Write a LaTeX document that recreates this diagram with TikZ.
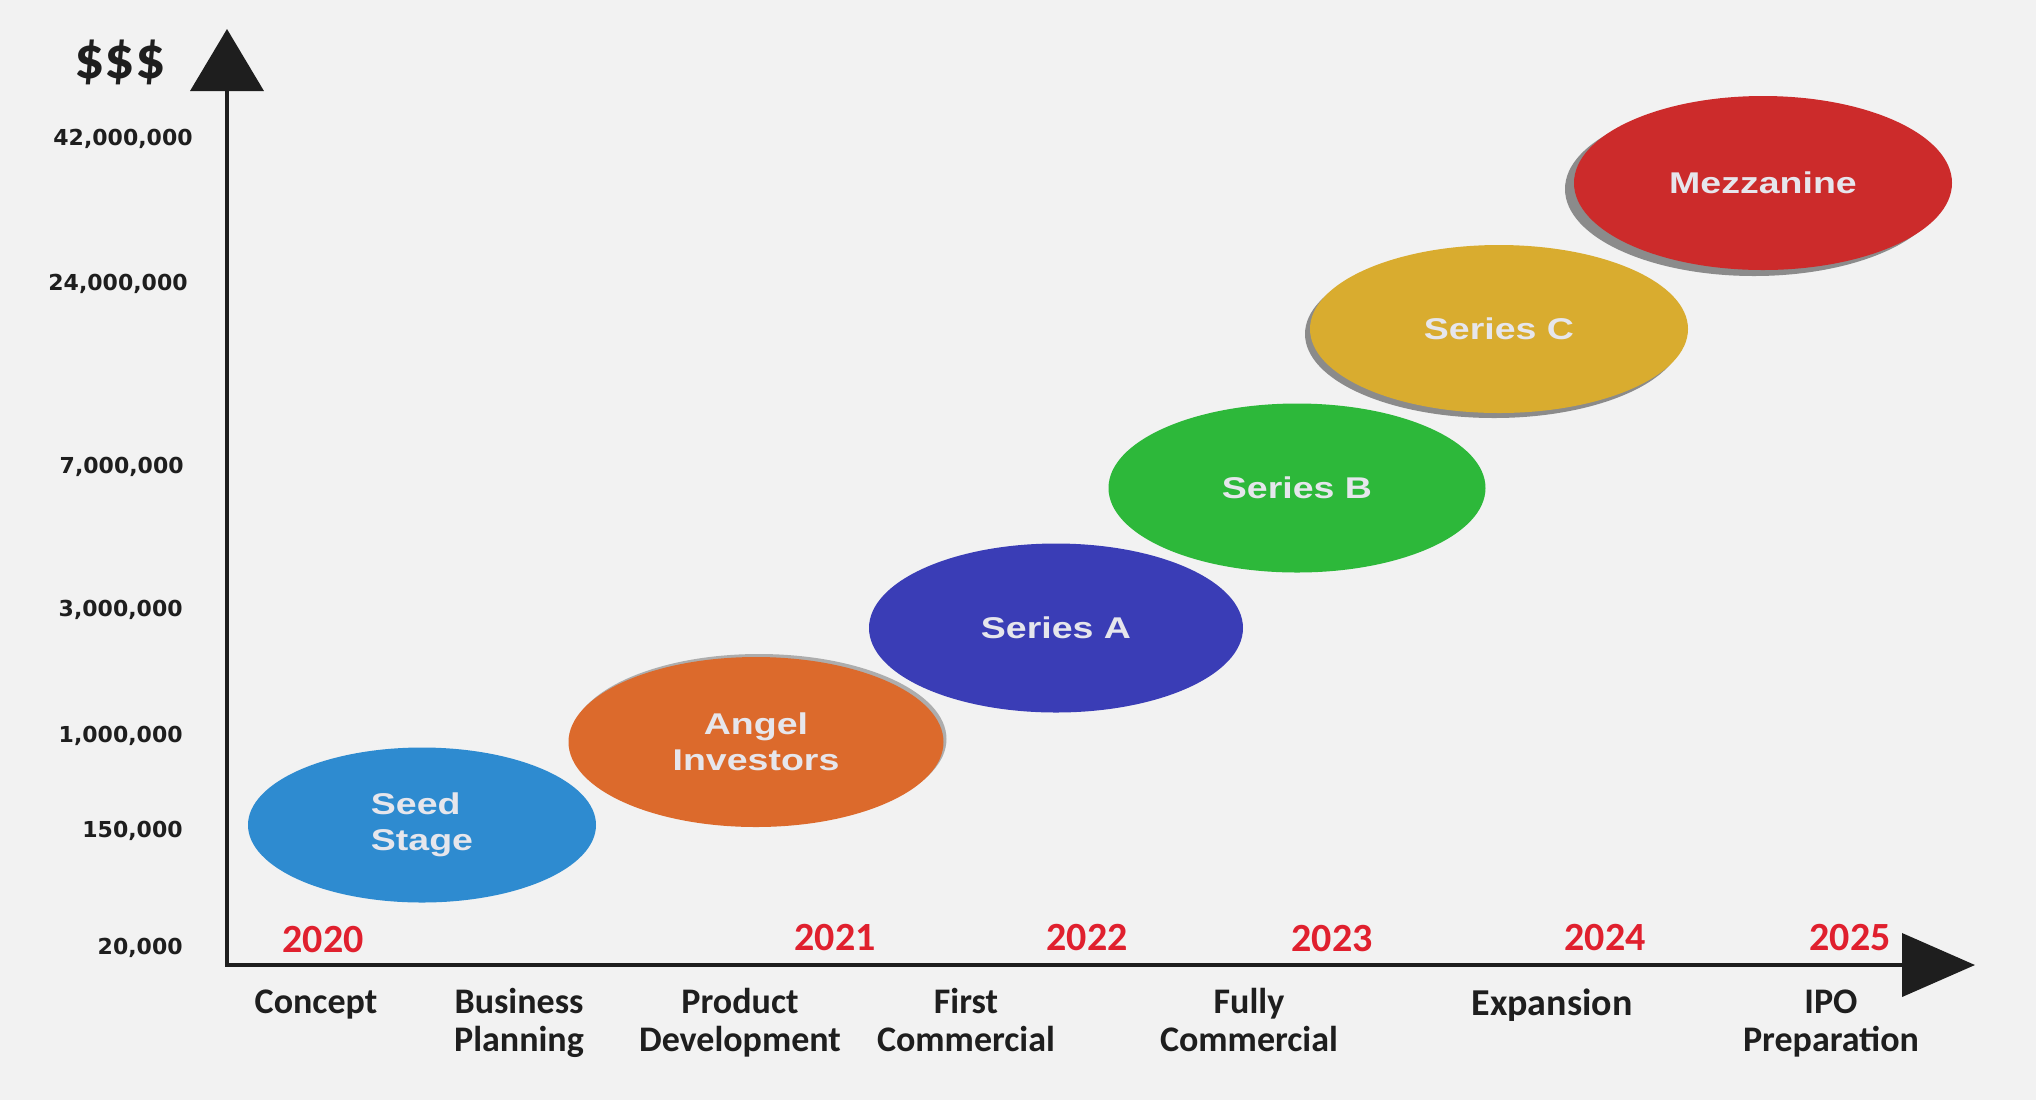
\documentclass[tikz,border=0pt]{standalone}
\usepackage{fontspec}
\usetikzlibrary{shapes.geometric,shadows,arrows.meta}
\newfontfamily\calfont{Carlito}
\newfontfamily\verfont{DejaVu Sans}
\newfontfamily\arfont[FakeStretch=1.25]{Liberation Sans}
\definecolor{bgcol}{HTML}{F2F2F2}
\definecolor{axiscol}{HTML}{1E1E1E}
\definecolor{yearred}{HTML}{E0202E}
\definecolor{stagetext}{HTML}{E6E6EC}
\definecolor{seedblue}{HTML}{2E8BD0}
\definecolor{angelorange}{HTML}{DC6A2C}
\definecolor{serAblue}{HTML}{3A3DB6}
\definecolor{serBgreen}{HTML}{2DB83A}
\definecolor{serCgold}{HTML}{D9AC2F}
\definecolor{mezzred}{HTML}{CC2B2B}
\begin{document}
\begin{tikzpicture}[x=0.5pt,y=-0.5pt,
  stage/.style={ellipse,inner sep=0pt,text=stagetext,align=center,
    font=\arfont\bfseries\fontsize{15}{18}\selectfont},
  amount/.style={anchor=east,inner sep=0pt,text=axiscol,
    font=\verfont\bfseries\fontsize{11}{13}\selectfont},
  year/.style={inner sep=0pt,text=yearred,
    font=\calfont\bfseries\fontsize{20}{24}\selectfont},
  phase/.style={anchor=base,inner sep=0pt,align=center,text=axiscol,
    font=\calfont\bfseries\fontsize{18}{19}\selectfont}]
  \fill[bgcol] (0,0) rectangle (2036,1100);
  \coordinate (ytip) at (227,29);
  \coordinate (origin) at (227,965);
  \coordinate (xtip) at (1975,965);
  \draw[line width=2pt,axiscol,line join=miter,
        {Triangle[width=36.5pt,length=31pt]}-{Triangle[width=31.5pt,length=36.5pt]}]
        (ytip) -- (origin) -- (xtip);
  \node[font=\calfont\bfseries\fontsize{30}{36}\selectfont,text=axiscol] (dollars) at (120,62) {\$\$\$};
  \node[amount] (m42) at (193,139) {42,000,000};
  \node[amount] (m24) at (188,284) {24,000,000};
  \node[amount] (m7) at (184,467) {7,000,000};
  \node[amount] (m3) at (183,610) {3,000,000};
  \node[amount] (m1) at (183,736) {1,000,000};
  \node[amount] (m150) at (183,831) {150,000};
  \node[amount] (m20) at (183,948) {20,000};
  \node[year] (y2020) at (323,940) {2020};
  \node[year] (y2021) at (835,938) {2021};
  \node[year] (y2022) at (1087,938) {2022};
  \node[year] (y2023) at (1332,939) {2023};
  \node[year] (y2024) at (1605,938) {2024};
  \node[year] (y2025) at (1850,938) {2025};
  \node[phase] (concept) at (316,1013) {Concept};
  \node[phase] (business) at (519,1051) {Business\\Planning};
  \node[phase] (product) at (740,1051) {Product\\Development};
  \node[phase] (first) at (966,1051) {First\\Commercial};
  \node[phase] (fully) at (1249,1051) {Fully\\Commercial};
  \node[phase,font=\calfont\bfseries\fontsize{19}{22}\selectfont] (expansion) at (1552,1015) {Expansion};
  \node[phase] (ipo) at (1831,1051) {IPO\\Preparation};
  \node[stage,align=left,fill=seedblue,minimum width=174pt,minimum height=77.5pt] (seed) at (422,825) {Seed\\Stage};
  \node[stage,fill=angelorange,minimum width=187.5pt,minimum height=85pt,
        drop shadow={shadow xshift=1.5pt,shadow yshift=1.5pt,fill=gray,opacity=.6}] (angel) at (756,742) {Angel\\Investors};
  \node[stage,fill=serAblue,minimum width=187pt,minimum height=84.5pt] (seriesA) at (1056,628) {Series A};
  \node[stage,fill=serBgreen,minimum width=188.5pt,minimum height=84.5pt] (seriesB) at (1297,488) {Series B};
  \node[stage,fill=serCgold,minimum width=189pt,minimum height=84pt,
        drop shadow={shadow xshift=-2.5pt,shadow yshift=-2.5pt,fill=gray,opacity=.9}] (seriesC) at (1499,329) {Series C};
  \node[stage,fill=mezzred,minimum width=189pt,minimum height=87pt,
        drop shadow={shadow xshift=-4.5pt,shadow yshift=-3pt,fill=gray,opacity=.9}] (mezz) at (1763,183) {Mezzanine};
\end{tikzpicture}
\end{document}
